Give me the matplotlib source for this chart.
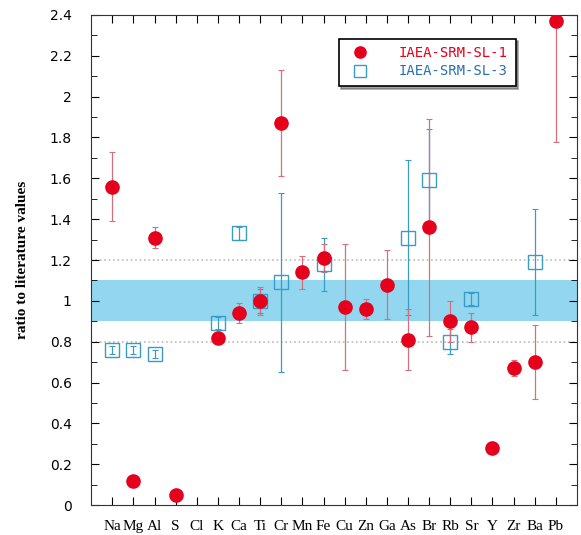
import numpy as np
import matplotlib.pyplot as plt

elements = ["Na", "Mg", "Al", "S", "Cl", "K", "Ca", "Ti", "Cr", "Mn", "Fe",
            "Cu", "Zn", "Ga", "As", "Br", "Rb", "Sr", "Y", "Zr", "Ba", "Pb"]

# IAEA-SRM-SL-1 (red circles), nan = not measured
sl1 = [1.56, 0.12, 1.31, 0.05, np.nan, 0.82, 0.94, 1.00, 1.87, 1.14, 1.21,
       0.97, 0.96, 1.08, 0.81, 1.36, 0.90, 0.87, 0.28, 0.67, 0.70, 2.37]
sl1_err = [0.17, 0.0, 0.05, 0.0, np.nan, 0.02, 0.05, 0.07, 0.26, 0.08, 0.07,
           0.31, 0.05, 0.17, 0.15, 0.53, 0.10, 0.07, 0.03, 0.04, 0.18, 0.59]

# IAEA-SRM-SL-3 (blue squares)
sl3 = [0.76, 0.76, 0.74, np.nan, np.nan, 0.89, 1.33, 1.00, 1.09, np.nan, 1.18,
       np.nan, np.nan, np.nan, 1.31, 1.59, 0.80, 1.01, np.nan, np.nan, 1.19, np.nan]
sl3_err = [0.02, 0.02, 0.02, np.nan, np.nan, 0.03, 0.03, 0.06, 0.44, np.nan, 0.13,
           np.nan, np.nan, np.nan, 0.38, 0.25, 0.06, 0.03, np.nan, np.nan, 0.26, np.nan]

x = np.arange(len(elements))

fig = plt.figure(figsize=(5.81, 5.35), dpi=100)
ax = fig.add_axes([0.157, 0.056, 0.836, 0.916])

# reference band and dotted lines
ax.axhspan(0.9, 1.1, color="#86d3ee", alpha=0.9, lw=0, zorder=0)
ax.axhline(0.8, color="#bbbbbb", ls=":", lw=1.2, zorder=0)
ax.axhline(1.2, color="#bbbbbb", ls=":", lw=1.2, zorder=0)

ax.errorbar(x, sl3, yerr=sl3_err, fmt="none", ecolor="#3a9cc4", elinewidth=0.9,
            capsize=2.5, capthick=0.8, zorder=2)
ax.errorbar(x, sl1, yerr=sl1_err, fmt="none", ecolor="#d5707a", elinewidth=0.9,
            capsize=2.5, capthick=0.8, zorder=2)
ax.plot(x, sl3, "s", ms=9.5, mfc="none", mec="#3a9cc4", mew=1.0, zorder=3,
        label="IAEA-SRM-SL-3")
ax.plot(x, sl1, "o", ms=9.5, color="#e5001c", zorder=4, label="IAEA-SRM-SL-1")

ax.set_xlim(-1, 22)
ax.set_ylim(0, 2.4)
ax.set_yticks(np.arange(0, 2.41, 0.2))
ax.set_yticklabels(["0", "0.2", "0.4", "0.6", "0.8", "1", "1.2", "1.4",
                    "1.6", "1.8", "2", "2.2", "2.4"], fontsize=10)
ax.set_yticks(np.arange(0.1, 2.4, 0.2), minor=True)
ax.set_xticks(x)
ax.set_xticklabels(elements, family="Liberation Serif", fontsize=11)
ax.tick_params(direction="in", top=True, right=True, length=6)
ax.tick_params(axis="y", pad=14)
ax.tick_params(which="minor", direction="in", right=True, left=True, length=4)
ax.tick_params(axis="x", pad=11)
for s in ax.spines.values():
    s.set_color("#333333")

ax.set_ylabel("ratio to literature values", family="Liberation Serif",
              fontweight="bold", fontsize=11, labelpad=15)

handles, labels = ax.get_legend_handles_labels()
leg = ax.legend(handles[::-1], labels[::-1], loc="upper right",
                bbox_to_anchor=(0.888, 0.966), frameon=True, shadow=True,
                fancybox=False, prop={"family": "DejaVu Sans Mono", "size": 10},
                borderpad=0.55, labelspacing=0.3, handletextpad=1.8,
                markerscale=0.85)
leg.get_frame().set_edgecolor("black")
leg.get_frame().set_linewidth(1.2)
leg.get_texts()[0].set_color("#e5001c")
leg.get_texts()[1].set_color("#2a6fb0")

fig.savefig("out.png", dpi=100)
